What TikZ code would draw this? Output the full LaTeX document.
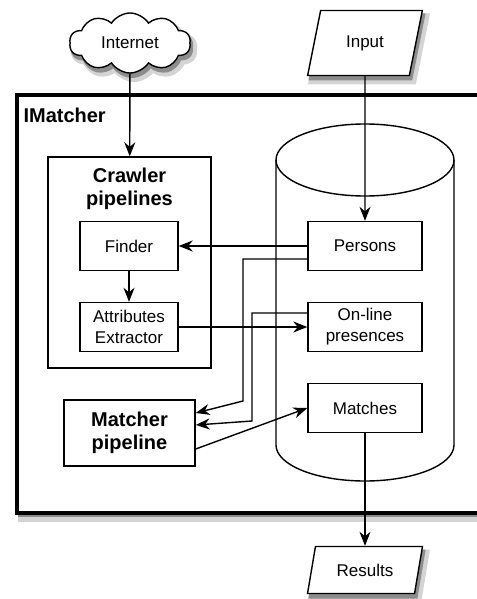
\documentclass[tikz,border=0pt]{standalone}
\usepackage{fontspec}
\setmainfont{Liberation Sans}
\usetikzlibrary{positioning, calc, arrows.meta, shapes.geometric, shapes.symbols}
\definecolor{Dark}{HTML}{000000}
\definecolor{ShadeA}{HTML}{D4D4D4}
\definecolor{ShadeB}{HTML}{8C8C8C}
\definecolor{White}{HTML}{FFFFFF}
\newcommand{\plainfont}{\fontsize{17}{21}\selectfont}
\newcommand{\headfont}{\fontsize{20}{23}\selectfont\bfseries}
\tikzset{
    storebox/.style={rectangle, draw=Dark, line width=1.4pt, fill=White, text=Dark, align=center, font=\plainfont, minimum width=114pt, minimum height=49pt, inner sep=0pt},
    stagebox/.style={storebox, minimum width=98pt},
    iobox/.style={trapezium, trapezium left angle=70, trapezium right angle=110, trapezium stretches=true, draw=Dark, line width=1.4pt, fill=White, font=\plainfont, minimum width=115pt, inner sep=0pt},
    cloudbox/.style={cloud, cloud puffs=10, cloud puff arc=115, aspect=2, draw=Dark, line width=1.4pt, fill=White, font=\plainfont, minimum width=121pt, minimum height=60pt, inner sep=0pt},
    outershade/.style={draw=ShadeA, fill=ShadeA, line width=6pt},
    innershade/.style={draw=ShadeB, fill=ShadeB, line width=2pt},
    arrow/.style={-{Stealth[length=14pt, width=11pt, inset=4.5pt]}, line width=1.4pt, color=Dark},
}

\begin{document}
\begin{tikzpicture}[x=1pt, y=-1pt]
                \useasboundingbox (0,0) rectangle (476,599);
                % Shadows
                \fill[outershade] (21,101) rectangle (494,519);
                \fill[innershade] (19,98) rectangle (492,516);
                \node[cloudbox, outershade] (internetshadeA) at (134,49) {\phantom{Internet}};
                \node[cloudbox, innershade] (internetshadeB) at (132,47) {\phantom{Internet}};
                \node[iobox, minimum height=65pt, outershade] (inputshadeA) at (369,49) {\phantom{Input}};
                \node[iobox, minimum height=65pt, innershade] (inputshadeB) at (367,47) {\phantom{Input}};
                \node[iobox, minimum height=47pt, outershade] (resultsshadeA) at (369,576) {\phantom{Results}};
                \node[iobox, minimum height=47pt, innershade] (resultsshadeB) at (367,574) {\phantom{Results}};
                
                % IMatcher frame
                \draw[line width=3.2pt, fill=White] (17,95) rectangle (490,513);
                \node[font=\headfont, anchor=west] (imatcher) at (20,115) {IMatcher};
                
                % Database cylinder
                \draw[line width=1.4pt] (276,160) -- (276,445)
                    arc[start angle=180, end angle=360, x radius=89pt, y radius=36pt] -- (454,160);
                \draw[line width=1.4pt] (365,160) ellipse [x radius=89pt, y radius=36pt];
                
                % Outside sources and sink
                \node[cloudbox] (internet) at (130,43) {Internet};
                \node[iobox, minimum height=65pt] (input) at (365,43) {Input};
                \node[iobox, minimum height=47pt] (results) at (365,570) {Results};
                
                % Crawler pipelines
                \node[rectangle, draw=Dark, line width=1.4pt, minimum width=163pt, minimum height=211pt, inner sep=0pt] (crawler) at (129.5,262.5) {};
                \node[font=\headfont, align=center] (crawlertitle) at (129.5,189) {Crawler\\pipelines};
                \node[stagebox] (finder) at (129,246) {Finder};
                \node[stagebox] (extractor) at (129,327) {Attributes\\Extractor};
                
                % Matcher pipeline
                \node[storebox, font=\headfont, minimum width=131pt, minimum height=66pt] (matcher) at (129.5,433) {Matcher\\pipeline};
                
                % Stored data
                \node[storebox] (persons) at (365,246) {Persons};
                \node[storebox] (presences) at (365,327) {On-line\\presences};
                \node[storebox] (matches) at (365,408) {Matches};
                
                % Connectors
                \draw[arrow] (internet) -- (crawler);
                \draw[arrow] (input) -- (persons);
                \draw[arrow] (persons.west) -- (finder.east);
                \draw[arrow] (finder) -- (extractor);
                \draw[arrow] (extractor.east) -- (presences.west);
                \draw[arrow] ([yshift=-13pt]persons.west) -| (243,401) -- ([yshift=20pt]matcher.east);
                \draw[arrow] ([yshift=14pt]presences.west) -| (252,421) -- ([yshift=8pt]matcher.east);
                \draw[arrow] ([yshift=-16pt]matcher.east) -- (matches.west);
                \draw[arrow] (matches) -- (results);
            \end{tikzpicture}
\end{document}
